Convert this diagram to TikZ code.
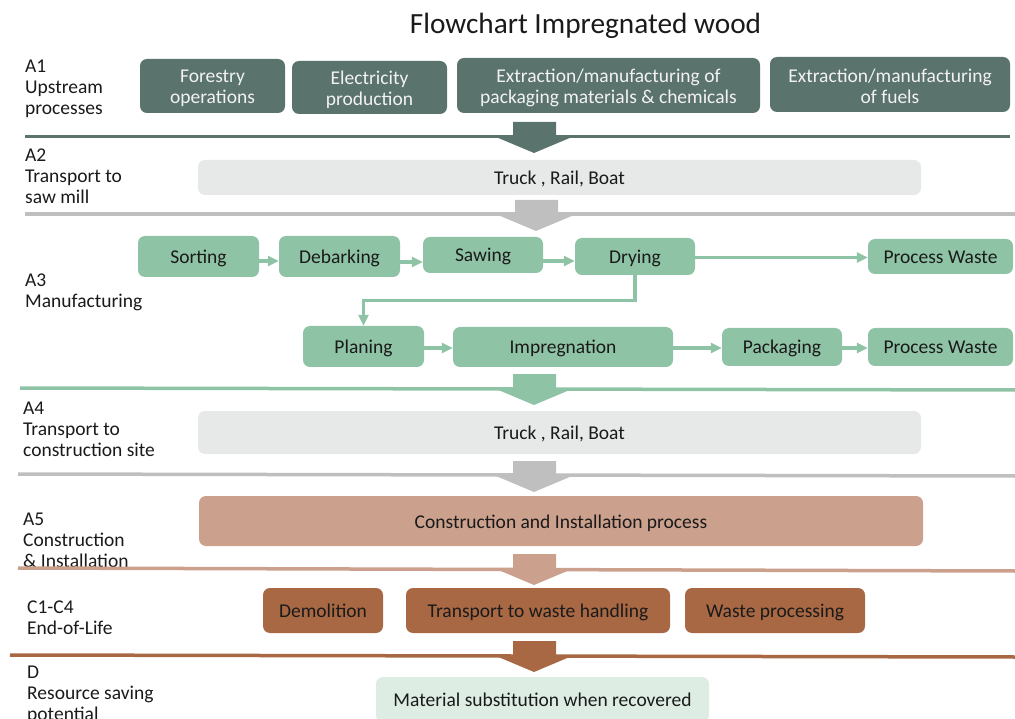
\documentclass[tikz,border=0pt]{standalone}
\usepackage{fontspec}
\setmainfont{Carlito}
\usetikzlibrary{arrows.meta}
\definecolor{cdark}{HTML}{5B736D}
\definecolor{cgraybox}{HTML}{E6E9E8}
\definecolor{cgrayline}{HTML}{BFBFBF}
\definecolor{cgreen}{HTML}{8FC3A6}
\definecolor{ctan}{HTML}{CBA08C}
\definecolor{cbrown}{HTML}{A96844}
\definecolor{clight}{HTML}{DDEDE3}
\definecolor{ctext}{HTML}{1A1A1A}
\newcommand\myupstrut{\rule{0pt}{17.8pt}}
\begin{document}
\begin{tikzpicture}[x=1pt,y=-1pt,
  txt/.style={font=\fontsize{19.5}{21}\selectfont, text=ctext},
  lbl/.style={txt, anchor=north west, align=left, inner sep=0pt},
  bx/.style={txt, rounded corners=7pt, inner sep=0pt, align=center, draw=none},
  one/.style={text height=14pt, text depth=0pt},
  upbox/.style={bx, fill=cdark, text=white!95!black},
  trbox/.style={bx, one, fill=cgraybox},
  mfbox/.style={bx, one, fill=cgreen},
  inbox/.style={bx, one, fill=ctan},
  eolbox/.style={bx, one, fill=cbrown},
  dbox/.style={bx, one, fill=clight},
  sep/.style={line width=3.5pt},
  flow/.style={cgreen, line width=3.2pt, -{Triangle[length=11pt,width=10pt]}},
  barrow/.pic={\path[pic actions] (-21,-15) -- (22,-15) -- (22,0) -- (38,0) -- (0,16) -- (-38,0) -- (-21,0) -- cycle;}
]
\useasboundingbox (0,0) rectangle (1015,719);
\clip (0,0) rectangle (1015,719);

% title
\node[font=\fontsize{29.3}{32}\selectfont, text=ctext, anchor=base, inner sep=0pt] (title) at (585.5,34) {Flowchart Impregnated wood};

% stage labels
\node[lbl] (lA1) at (25,60) {A1\\Upstream\\processes};
\node[lbl] (lA2) at (25,149) {A2\\Transport to\\saw mill};
\node[lbl] (lA3) at (25,274) {A3\\Manufacturing};
\node[lbl] (lA4) at (23,402) {A4\\Transport to\\construction site};
\node[lbl] (lA5) at (23,513) {A5\\Construction\\\& Installation};
\node[lbl] (lC) at (27,601) {C1-C4\\End-of-Life};
\node[lbl] (lD) at (27,666) {D\\Resource saving\\potential};

% separator lines
\draw[sep, cdark] (25,136.5) -- (1010,136.5);
\draw[sep, cgrayline] (25,214) -- (1015,214);
\draw[sep, cgreen] (20,388) -- (1015,390);
\draw[sep, cgrayline] (18,474) -- (1015,476);
\draw[sep, ctan] (18,568) -- (1015,571);
\draw[sep, cbrown] (10,655) -- (1015,657);

% block arrows
\pic[fill=cdark] at (534,137) {barrow};
\pic[fill=cgrayline] at (536,215) {barrow};
\pic[fill=cgreen] at (534,389) {barrow};
\pic[fill=cgrayline] at (534,476) {barrow};
\pic[fill=ctan] at (534,569) {barrow};
\pic[fill=cbrown] at (534,656) {barrow};

% A1
\node[upbox, minimum width=145pt, minimum height=54pt] (f1) at (212.5,86) {\myupstrut Forestry\\operations};
\node[upbox, minimum width=155pt, minimum height=53pt] (f2) at (369.5,87.5) {\myupstrut Electricity\\production};
\node[upbox, minimum width=303pt, minimum height=55pt] (f3) at (608.5,85.5) {\myupstrut Extraction/manufacturing of\\packaging materials \& chemicals};
\node[upbox, minimum width=240pt, minimum height=55pt] (f4) at (890,84.5) {\myupstrut Extraction/manufacturing\\of fuels};

% A2
\node[trbox, minimum width=723pt, minimum height=35pt] (t1) at (559.5,177.5) {Truck , Rail, Boat};

% A3
\node[mfbox, minimum width=121pt, minimum height=41pt] (sort) at (198.5,256.5) {Sorting};
\node[mfbox, minimum width=121pt, minimum height=41pt] (deb) at (339.5,256.5) {Debarking};
\node[mfbox, minimum width=120pt, minimum height=36pt] (saw) at (483,255) {Sawing};
\node[mfbox, minimum width=120pt, minimum height=37pt] (dry) at (635,256.5) {Drying};
\node[mfbox, minimum width=145pt, minimum height=35pt] (pw1) at (940.5,256.5) {Process Waste};
\node[mfbox, minimum width=121pt, minimum height=41pt] (plan) at (363.5,346.5) {Planing};
\node[mfbox, minimum width=220pt, minimum height=40pt] (imp) at (563,347) {Impregnation};
\node[mfbox, minimum width=120pt, minimum height=38pt] (pack) at (782,347) {Packaging};
\node[mfbox, minimum width=145pt, minimum height=38pt] (pw2) at (940.5,347) {Process Waste};

\draw[flow] ([yshift=-4.5pt]sort.east) -- ([yshift=-4.5pt]sort.east -| deb.west);
\draw[flow] ([yshift=-5.5pt]deb.east) -- ([yshift=-5.5pt]deb.east -| saw.west);
\draw[flow] ([yshift=-6pt]saw.east) -- ([yshift=-6pt]saw.east -| dry.west);
\draw[flow] ([yshift=-1pt]dry.east) -- ([yshift=-1pt]dry.east -| pw1.west);
\draw[flow] (dry.south) -- ++(0,25) -| (plan.north);
\draw[flow] ([yshift=-1.5pt]plan.east) -- ([yshift=-1.5pt]plan.east -| imp.west);
\draw[flow] ([yshift=-1pt]imp.east) -- ([yshift=-1pt]imp.east -| pack.west);
\draw[flow] ([yshift=-1pt]pack.east) -- ([yshift=-1pt]pack.east -| pw2.west);

% A4
\node[trbox, minimum width=723pt, minimum height=43pt] (t2) at (559.5,432.5) {Truck , Rail, Boat};

% A5
\node[inbox, minimum width=724pt, minimum height=50pt] (inst) at (561,521) {Construction and Installation process};

% C1-C4
\node[eolbox, minimum width=120pt, minimum height=45pt] (dem) at (323,610.5) {Demolition};
\node[eolbox, minimum width=264pt, minimum height=45pt] (trw) at (538,610.5) {Transport to waste handling};
\node[eolbox, minimum width=180pt, minimum height=45pt] (wp) at (775,610.5) {Waste processing};

% D
\node[dbox, minimum width=333pt, minimum height=45pt] (mat) at (542.5,699.5) {Material substitution when recovered};
\end{tikzpicture}
\end{document}
